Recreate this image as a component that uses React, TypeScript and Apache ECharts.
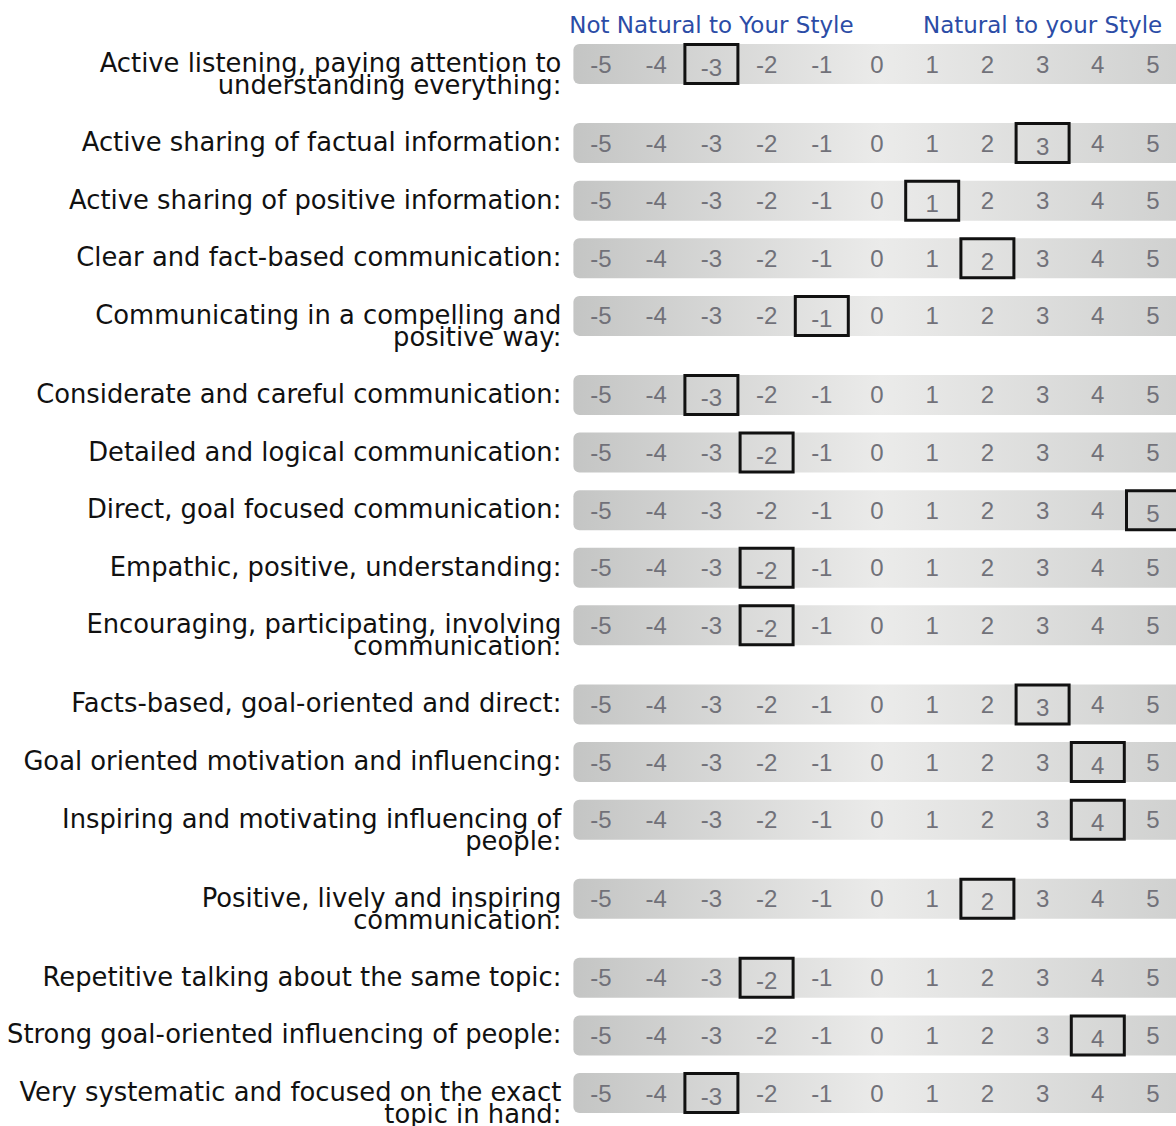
import React, { useEffect, useRef } from "react";
import * as echarts from "echarts";

const labels: string[][] = [
  ["Active listening, paying attention to", "understanding everything:"],
  ["Active sharing of factual information:"],
  ["Active sharing of positive information:"],
  ["Clear and fact-based communication:"],
  ["Communicating in a compelling and", "positive way:"],
  ["Considerate and careful communication:"],
  ["Detailed and logical communication:"],
  ["Direct, goal focused communication:"],
  ["Empathic, positive, understanding:"],
  ["Encouraging, participating, involving", "communication:"],
  ["Facts-based, goal-oriented and direct:"],
  ["Goal oriented motivation and influencing:"],
  ["Inspiring and motivating influencing of", "people:"],
  ["Positive, lively and inspiring", "communication:"],
  ["Repetitive talking about the same topic:"],
  ["Strong goal-oriented influencing of people:"],
  ["Very systematic and focused on the exact", "topic in hand:"],
];
const scores: number[] = [-3, 3, 1, 2, -1, -3, -2, 5, -2, -2, 3, 4, 4, 2, -2, 4, -3];
const scaleTicks: number[] = [-5, -4, -3, -2, -1, 0, 1, 2, 3, 4, 5];
const headerLeft = "Not Natural to Your Style";
const headerRight = "Natural to your Style";
const headerLeftAt = -3;
const headerRightAt = 3;

const EXTRA_LINE = 0.373;

export default function App() {
  const ref = useRef<HTMLDivElement>(null);
  useEffect(() => {
    if (!ref.current) return;
    const chart = echarts.init(ref.current, undefined, { renderer: "svg" });
    const positions: number[] = [];
    let acc = 0;
    labels.forEach((l) => {
      positions.push(acc);
      acc += 1 + (l.length - 1) * EXTRA_LINE;
    });
    const lastPos = positions[positions.length - 1];
    const data = scores.map((s, i) => [s, positions[i], i]);

    const renderItem = (params: any, api: any) => {
      const idx = params.dataIndex;
      const pos = api.value(1);
      const score = api.value(0);
      const [x0, cy] = api.coord([0, pos]);
      const unit = api.coord([1, pos])[0] - x0;
      const barLeft = api.coord([-5, pos])[0] - unit / 2;
      const children: any[] = [];
      children.push({
        type: "rect",
        shape: { x: barLeft, y: cy - 20, width: 700, height: 40, r: [6, 0, 0, 6] },
        style: {
          fill: {
            type: "linear",
            x: 0,
            y: 0,
            x2: 1,
            y2: 0,
            colorStops: [
              { offset: 0, color: "#c4c5c4" },
              { offset: 0.44, color: "#ebebea" },
              { offset: 0.86, color: "#d0d1d0" },
              { offset: 1, color: "#c8c9c8" },
            ],
          },
        },
      });
      scaleTicks.forEach((t) => {
        const tx = api.coord([t, pos])[0];
        children.push({
          type: "text",
          style: {
            text: String(t),
            x: tx,
            y: cy + (t === score ? 3 : 0),
            align: "center",
            verticalAlign: "middle",
            fontSize: 24,
            fontFamily: "Liberation Sans",
            fill: "#717179",
          },
        });
      });
      const bx = api.coord([score, pos])[0];
      children.push({
        type: "rect",
        shape: { x: bx - 26.5, y: cy - 19.5, width: 53, height: 39 },
        style: { fill: "none", stroke: "#111111", lineWidth: 3 },
      });
      children.push({
        type: "text",
        style: {
          text: labels[idx].join("\n"),
          x: barLeft - 12,
          y: cy - 12,
          align: "right",
          verticalAlign: "top",
          lineHeight: 22,
          fontSize: 25.8,
          fontFamily: "DejaVu Sans",
          fill: "#111111",
        },
      });
      if (idx === 0) {
        [
          [headerLeft, headerLeftAt],
          [headerRight, headerRightAt],
        ].forEach(([txt, at]) => {
          children.push({
            type: "text",
            style: {
              text: txt,
              x: api.coord([at as number, pos])[0],
              y: cy - 39,
              align: "center",
              verticalAlign: "middle",
              fontSize: 23,
              fontFamily: "DejaVu Sans",
              fill: "#2b4ca6",
            },
          });
        });
      }
      return { type: "group", children };
    };

    chart.setOption({
      animation: false,
      grid: { left: 601, right: 23, top: 64, bottom: 33 },
      xAxis: { type: "value", min: -5, max: 5, show: false },
      yAxis: { type: "value", inverse: true, min: 0, max: lastPos, show: false },
      series: [
        {
          type: "custom",
          renderItem,
          data,
          encode: { x: 0, y: 1 },
          clip: false,
        },
      ],
    });
    return () => chart.dispose();
  }, []);
  return (
    <div
      ref={ref}
      style={{ position: "fixed", left: 0, top: 0, width: 1176, height: 1126, background: "#ffffff" }}
    />
  );
}
